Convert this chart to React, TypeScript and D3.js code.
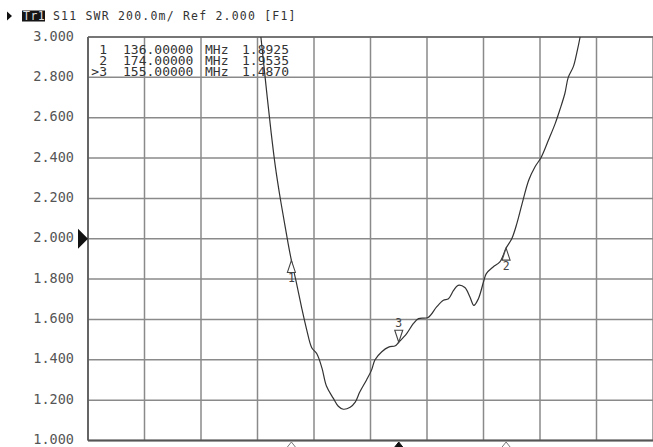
import React from 'react';
import * as d3 from 'd3';

// trace (MHz, SWR)
const freqs = [129.8, 130.6, 131.5, 132.4, 133.2, 134.0, 134.8, 135.4, 136.0, 136.9, 137.8, 138.7, 139.6, 140.5, 141.4, 142.2, 143.4, 144.3, 145.2, 146.4, 147.3, 148.1, 149.3, 150.2, 150.8, 152.0, 153.2, 154.4, 155.0, 156.4, 157.6, 158.5, 160.2, 161.7, 162.9, 163.8, 164.7, 165.5, 166.7, 167.6, 168.3, 169.1, 170.0, 170.5, 171.7, 172.9, 174.0, 175.0, 175.9, 176.8, 178.0, 179.1, 180.2, 181.5, 182.7, 183.5, 184.4, 185.0, 185.9, 186.5, 187.1, 187.6];
const swr = [3.20, 3.00, 2.76, 2.53, 2.35, 2.205, 2.075, 1.98, 1.8925, 1.78, 1.66, 1.55, 1.46, 1.43, 1.36, 1.27, 1.21, 1.17, 1.155, 1.165, 1.19, 1.24, 1.30, 1.35, 1.40, 1.44, 1.463, 1.47, 1.487, 1.53, 1.58, 1.604, 1.61, 1.662, 1.695, 1.703, 1.744, 1.769, 1.758, 1.711, 1.67, 1.703, 1.786, 1.827, 1.86, 1.885, 1.9535, 2.0, 2.075, 2.17, 2.29, 2.356, 2.403, 2.489, 2.572, 2.638, 2.72, 2.8, 2.853, 2.92, 3.0, 3.08];

const markerIds = ['1', '2', '3'];
const markerFreqs = [136, 174, 155];
const markerVals = [1.8925, 1.9535, 1.487];
const activeMarker = '3';

const yTicks = [3.0, 2.8, 2.6, 2.4, 2.2, 2.0, 1.8, 1.6, 1.4, 1.2, 1.0];
const xTicks = [100, 110, 120, 130, 140, 150, 160, 170, 180, 190, 200];
const header = 'S11 SWR 200.0m/ Ref 2.000 [F1]';
const refValue = 2.0;

const mono = '"DejaVu Sans Mono", "Liberation Mono", monospace';

const App = () => {
  const W = 653, H = 447;
  const left = 88, top = 37, right = 653, bottom = 440.5;

  const x = d3.scaleLinear().domain([100, 200]).range([left, right]);
  const y = d3.scaleLinear().domain([1, 3]).range([bottom, top]);

  const pts = freqs.map((f, i) => [f, swr[i]] as [number, number]);
  const line = d3.line<[number, number]>()
    .x(d => x(d[0]))
    .y(d => y(d[1]))
    .curve(d3.curveCatmullRom.alpha(0.5));

  const yRef = y(refValue);

  return (
    <div style={{ position: 'absolute', left: 0, top: 0 }}>
      <svg width={W} height={H} style={{ display: 'block', background: '#fff' }}>
        <defs>
          <clipPath id="plot">
            <rect x={left} y={top} width={right - left} height={bottom - top} />
          </clipPath>
        </defs>

        {/* header */}
        <path d="M7,11.5 L12,16 L7,20.5 Z" fill="#111" />
        <rect x={22} y={10.5} width={23} height={11} fill="#151515" />
        <text x={23} y={20} fontFamily={mono} fontSize={11.5} fill="#ddd" letterSpacing={0.5}>Tr1</text>
        <text x={53} y={20} fontFamily={mono} fontSize={11.5} letterSpacing={1.2} fill="#333">{header}</text>

        {/* grid */}
        {xTicks.map(t => (
          <line key={'gx' + t} x1={x(t)} x2={x(t)} y1={top} y2={bottom} stroke="#8a8a8a" strokeWidth={1.5} />
        ))}
        {yTicks.map(t => (
          <line key={'gy' + t} x1={left} x2={right} y1={y(t)} y2={y(t)} stroke="#8a8a8a" strokeWidth={1.5} />
        ))}
        <line x1={left} x2={left} y1={top} y2={bottom} stroke="#555" strokeWidth={1.6} />
        <line x1={left} x2={right} y1={bottom} y2={bottom} stroke="#555" strokeWidth={1.8} />
        <line x1={left} x2={right} y1={top} y2={top} stroke="#666" strokeWidth={1.4} />

        {/* y labels */}
        {yTicks.map(t => (
          <text key={'ly' + t} x={74} y={y(t) + 3.5} textAnchor="end" fontFamily={mono} fontSize={13.5} fill="#555">
            {t.toFixed(3)}
          </text>
        ))}

        {/* reference arrow */}
        <path d={`M78,${yRef - 10} L88,${yRef} L78,${yRef + 10} Z`} fill="#111" />

        {/* marker table */}
        {markerIds.map((id, i) => (
          <g key={'tb' + id} fontFamily={mono} fontSize={13} fill="#333">
            <text x={107} y={53.5 + i * 11} textAnchor="end">{(id === activeMarker ? '>' : '') + id}</text>
            <text x={123} y={53.5 + i * 11}>{markerFreqs[i].toFixed(5)}</text>
            <text x={205} y={53.5 + i * 11}>MHz</text>
            <text x={242} y={53.5 + i * 11}>{markerVals[i].toFixed(4)}</text>
          </g>
        ))}

        {/* trace */}
        <path d={line(pts) || ''} fill="none" stroke="#333" strokeWidth={1.2} clipPath="url(#plot)" />

        {/* markers on trace */}
        {markerIds.map((id, i) => {
          const mx = x(markerFreqs[i]);
          const my = y(markerVals[i]);
          const up = id !== activeMarker;
          return up ? (
            <g key={'mk' + id}>
              <path d={`M${mx},${my} L${mx - 4},${my + 12} L${mx + 4},${my + 12} Z`} fill="#fff" stroke="#444" strokeWidth={1.1} />
              <text x={mx} y={my + 22} textAnchor="middle" fontFamily={mono} fontSize={11.5} fill="#444">{id}</text>
            </g>
          ) : (
            <g key={'mk' + id}>
              <path d={`M${mx},${my} L${mx - 4},${my - 12} L${mx + 4},${my - 12} Z`} fill="#fff" stroke="#444" strokeWidth={1.1} />
              <text x={mx} y={my - 15} textAnchor="middle" fontFamily={mono} fontSize={11.5} fill="#444">{id}</text>
            </g>
          );
        })}

        {/* markers on frequency axis */}
        {markerIds.map((id, i) => {
          const mx = x(markerFreqs[i]);
          const active = id === activeMarker;
          return (
            <path key={'bx' + id} d={`M${mx},${bottom + 1.5} L${mx - 6},${bottom + 9} L${mx + 6},${bottom + 9} Z`}
              fill={active ? '#111' : '#fff'} stroke={active ? '#111' : '#777'} strokeWidth={1} />
          );
        })}
      </svg>
    </div>
  );
};

export default App;
